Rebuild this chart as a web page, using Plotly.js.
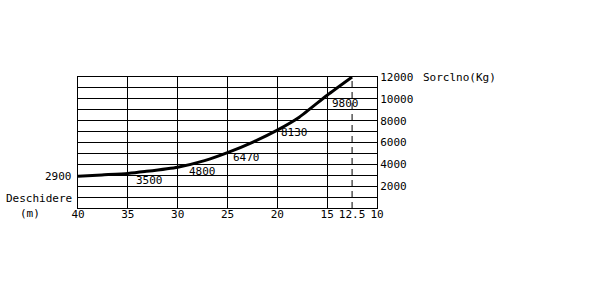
<!DOCTYPE html>
<html><head><meta charset="utf-8">
<script src="https://cdn.plot.ly/plotly-3.0.1.min.js"></script>
<style>html,body{margin:0;padding:0;background:#fff}</style>
</head><body>
<div id="chart" style="width:595px;height:286px"></div>
<script>
// Span (m) along the curve and tension (kg)
const spanX = [40, 37.6, 35, 33.3, 30, 27.3, 25, 22.5, 20, 17.8, 15, 12.5];
const loadY = [2900, 3030, 3170, 3340, 3740, 4340, 5070, 6020, 7140, 8320, 10330, 12000];

// Printed value labels along the curve
const labelText = ['3500', '4800', '6470', '8130', '9800'];
const labelX = [32.8, 27.5, 23.1, 18.25, 13.2];
const labelY = [2490, 3310, 4590, 6950, 9600];

// Axis ticks
const xTickVals = [40, 35, 30, 25, 20, 15, 12.5, 10];
const xTickText = ['40', '35', '30', '25', '20', '15', '12.5', '10'];
const xGridVals = [40, 35, 30, 25, 20, 15, 10];
const yTickVals = [0, 1000, 2000, 3000, 4000, 5000, 6000, 7000, 8000, 9000, 10000, 11000, 12000];
const yTickText = ['', '', '2000', '', '4000', '', '6000', '', '8000', '', '10000', '', '12000'];

const startLabel = '2900';
const markSpan = 12.5;
const yMax = 12000;

const F = 'DejaVu Sans Mono, monospace';

const traces = [
  {x: [markSpan, markSpan], y: [0, yMax], mode: 'lines', line: {color: '#000', width: 1, dash: '6px,5px'}, hoverinfo: 'skip', showlegend: false},
  {x: spanX, y: loadY, mode: 'lines', line: {color: '#000', width: 3, shape: 'spline', smoothing: 0.6}, showlegend: false}
];

const ann = labelText.map((t, i) => ({
  x: labelX[i], y: labelY[i], xref: 'x', yref: 'y', text: t, showarrow: false,
  font: {family: F, size: 11, color: '#000'}, xanchor: 'center', yanchor: 'middle'
}));
ann.push({x: 0, y: 2900, xref: 'paper', yref: 'y', text: startLabel, showarrow: false,
  font: {family: F, size: 11, color: '#000'}, xanchor: 'right', yanchor: 'middle', xshift: -4});
ann.push({x: 0, y: 0, xref: 'paper', yref: 'y', text: 'Deschidere', showarrow: false,
  font: {family: F, size: 11, color: '#000'}, xanchor: 'right', yanchor: 'middle', xshift: -4, yshift: 10});
ann.push({x: 0, y: 0, xref: 'paper', yref: 'y', text: '(m)', showarrow: false,
  font: {family: F, size: 11, color: '#000'}, xanchor: 'center', yanchor: 'middle', xshift: -48, yshift: -5});
ann.push({x: 1, y: 1, xref: 'paper', yref: 'paper', text: 'Sorclno(Kg)', showarrow: false,
  font: {family: F, size: 11, color: '#000'}, xanchor: 'left', yanchor: 'middle', xshift: 44});

const layout = {
  width: 595, height: 286,
  margin: {l: 78, r: 218, t: 77, b: 78, pad: 0},
  paper_bgcolor: '#fff', plot_bgcolor: '#fff',
  showlegend: false,
  xaxis: {
    range: [40, 10], tickmode: 'array', tickvals: xTickVals, ticktext: xTickText,
    showgrid: false, zeroline: false, showline: true, linecolor: '#000', linewidth: 1, mirror: true,
    ticks: '', ticklabelstandoff: -4, tickfont: {family: F, size: 11, color: '#000'},
    minor: {tickmode: 'array', tickvals: xGridVals, showgrid: true, gridcolor: '#000', gridwidth: 1, ticks: ''}
  },
  yaxis: {
    range: [0, yMax], side: 'right', tickmode: 'array', tickvals: yTickVals, ticktext: yTickText,
    showgrid: true, gridcolor: '#000', gridwidth: 1, zeroline: false,
    showline: true, linecolor: '#000', linewidth: 1, mirror: true,
    ticks: '', tickfont: {family: F, size: 11, color: '#000'}
  },
  annotations: ann
};

Plotly.newPlot('chart', traces, layout, {staticPlot: true, displayModeBar: false});
</script>
</body></html>
